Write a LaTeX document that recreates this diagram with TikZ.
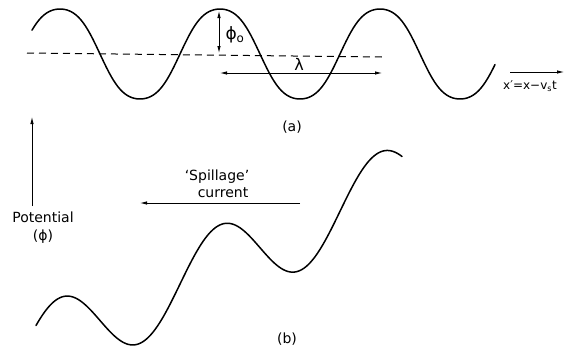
\documentclass[tikz,border=0pt]{standalone}
\usepackage{fontspec}
\setmainfont{DejaVu Sans}
\usetikzlibrary{arrows.meta, positioning}

\begin{document}
\begin{tikzpicture}[
    x=1pt, y=-1pt,
    >={Latex[length=7pt, width=3.5pt]},
    wave/.style={line width=1.5pt, line join=round, line cap=round},
    thinarrow/.style={line width=0.8pt},
    lbl/.style={font=\fontsize{14}{16}\selectfont, inner sep=0pt},
    declare function={
        cw(\t)=(cos(\t)-0.05*cos(3*\t))/0.95;
    }
]

    \useasboundingbox (0,0) rectangle (565,351);

    % 1. Sóng (a)
    \draw[wave]
        plot[
            domain=32:495,
            samples=200
        ] (\x,{54-45*cw(2.25*(\x-60))});

    % Đường trung bình (nét đứt)
    \draw[line width=1pt, dash pattern=on 7pt off 5pt]
        (27,53) -- (382,57);

    % 2. Biên độ phi_o
    \coordinate (phitop) at (219,11);
    \coordinate (phibot) at (219,53);
    \draw[thinarrow, <->] (phitop) -- (phibot);
    \node[lbl, font=\fontsize{17}{19}\selectfont] (phio) at (235,35)
        {ϕ\textsubscript{o}};

    % 3. Bước sóng lambda
    \coordinate (lamL) at (220,73);
    \coordinate (lamR) at (382,73);
    \draw[thinarrow, <->] (lamL) -- (lamR);
    \node[lbl, font=\fontsize{16}{18}\selectfont] (lam) at (299,64) {λ};

    % 4. Trục x'
    \coordinate (xL) at (510,72);
    \coordinate (xR) at (564,72);
    \draw[thinarrow, ->] (xL) -- (xR);
    \node[lbl, font=\fontsize{12}{14}\selectfont] (xlab) at (530,86)
        {x′=x−v\textsubscript{s}t};

    \node[lbl] (a) at (292,127) {(a)};

    % 5. Trục thế
    \coordinate (potB) at (32,206);
    \coordinate (potT) at (32,117);
    \draw[thinarrow, ->] (potB) -- (potT);
    \node[lbl] (pot) at (43,217) {Potential};
    \node[lbl, below=7pt of pot.south, anchor=north] (phi) {(ϕ)};

    % 6. Dòng 'Spillage'
    \node[lbl] (spill) at (217,177) {‘Spillage’};
    \node[lbl] (curr) at (223,193) {current};
    \coordinate (spR) at (300,203);
    \coordinate (spL) at (140,203);
    \draw[thinarrow, ->] (spR) -- (spL);

    % 7. Sóng (b)
    \draw[wave]
        plot[
            domain=36:402,
            samples=200
        ] (\x,{366-0.455*\x-41*cos(2.25*(\x-60))});

    \node[lbl] (b) at (287,339) {(b)};

\end{tikzpicture}
\end{document}
